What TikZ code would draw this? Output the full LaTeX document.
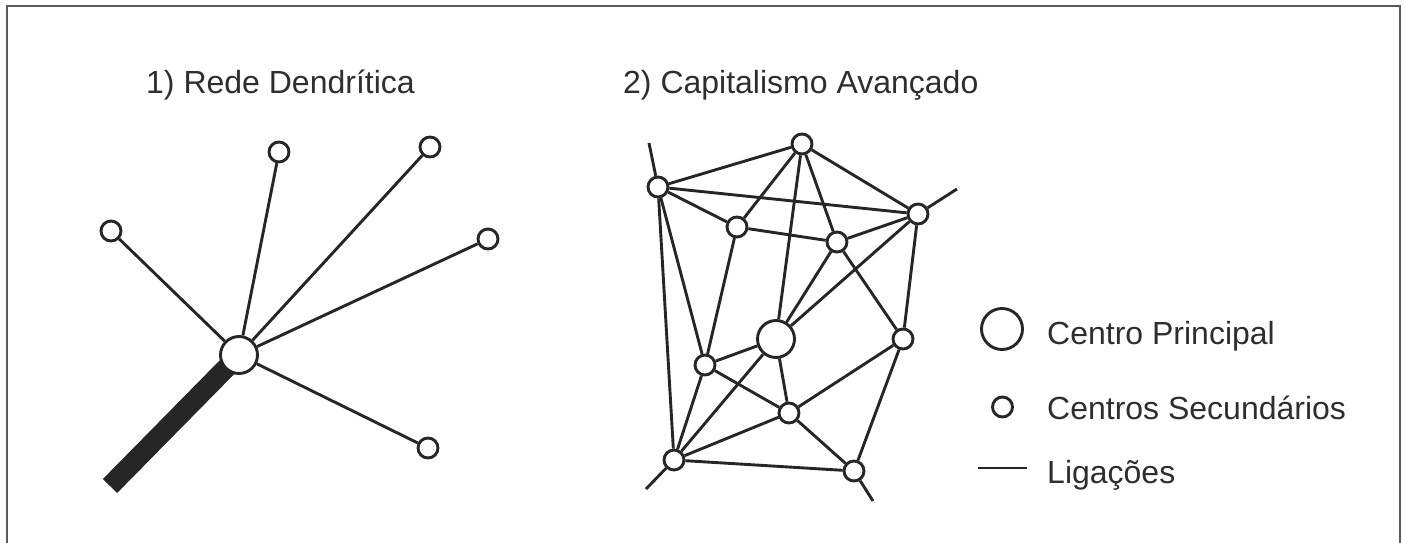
\documentclass[tikz,border=0pt]{standalone}
\usepackage{fontspec}
\setmainfont{Liberation Sans}
\usepackage{tikz}

\definecolor{tinta}{HTML}{262626}
\definecolor{texto}{HTML}{2E2E2E}
\definecolor{moldura}{HTML}{5A5A5A}

\begin{document}
\begin{tikzpicture}[
      x=1pt, y=-1pt,
      ligacao/.style={line width=2.9pt,draw=tinta},
      tronco/.style={line width=20pt,draw=tinta},
      centro/.style={circle,draw=tinta,line width=2.9pt,fill=white,inner sep=0pt,minimum size=37pt},
      secundario/.style={circle,draw=tinta,line width=2.9pt,fill=white,inner sep=0pt,minimum size=20pt},
      titulo/.style={anchor=base west,inner sep=0pt,text=texto,font=\fontsize{32}{38}\selectfont}
    ]
    \useasboundingbox (0,0) rectangle (1406,543);
    % Draw the frame.
    \draw[moldura,line width=2pt] (6.5,543) -- (6.5,6.5) -- (1400,6.5) -- (1400,543);
    % Draw the titles.
    \node[titulo] (t1) at (146,93) {1) Rede Dendrítica};
    \node[titulo] (t2) at (623,93) {2) Capitalismo Avançado};
    % Draw the dendritic network.
    \coordinate (dc) at (239,355);
    \coordinate (dfim) at (110,486);
    \draw[tronco] (dc) -- (dfim);
    \node[centro] (d0) at (dc) {};
    \node[secundario] (d1) at (111,231) {};
    \node[secundario] (d2) at (279,152) {};
    \node[secundario] (d3) at (430,147) {};
    \node[secundario] (d4) at (488,239) {};
    \node[secundario] (d5) at (428,448) {};
    \foreach \n in {1,...,5}
      \draw[ligacao] (d0) -- (d\n);
    % Draw the advanced network.
    \node[secundario] (ca) at (658,187) {};
    \node[secundario] (cb) at (802,144) {};
    \node[secundario] (cc) at (918,214) {};
    \node[secundario] (cd) at (737,227) {};
    \node[secundario] (ce) at (837,242) {};
    \node[centro] (cm) at (776,339) {};
    \node[secundario] (cf) at (903,339) {};
    \node[secundario] (cg) at (705,365) {};
    \node[secundario] (ch) at (789,413) {};
    \node[secundario] (ci) at (674,460) {};
    \node[secundario] (cj) at (854,471) {};
    \coordinate (pa) at (649,143);
    \coordinate (pc) at (957,189);
    \coordinate (pi) at (646,489);
    \coordinate (pj) at (873,501);
    \foreach \a/\b in {ca/cb,ca/cc,ca/cd,ca/cg,ca/ci,cb/cc,cb/cd,cb/ce,cb/cm,cc/ce,cc/cm,cc/cf,
                       cd/ce,cd/cg,ce/cm,ce/cf,cg/cm,cg/ch,cg/ci,cm/ch,cm/ci,ch/cf,ch/ci,ch/cj,
                       ci/cj,cf/cj,ca/pa,cc/pc,ci/pi,cj/pj}
      \draw[ligacao] (\a) -- (\b);
    % Draw the legend.
    \node[centro,minimum size=41pt] (lp) at (1002,329) {};
    \node[titulo] (lpt) at (1047,344) {Centro Principal};
    \node[secundario] (ls) at (1002.5,407) {};
    \node[titulo] (lst) at (1047,419) {Centros Secundários};
    \coordinate (la) at (978,468);
    \coordinate (lb) at (1027,468);
    \draw[ligacao] (la) -- (lb);
    \node[titulo] (llt) at (1047,483) {Ligações};
    \end{tikzpicture}
\end{document}
